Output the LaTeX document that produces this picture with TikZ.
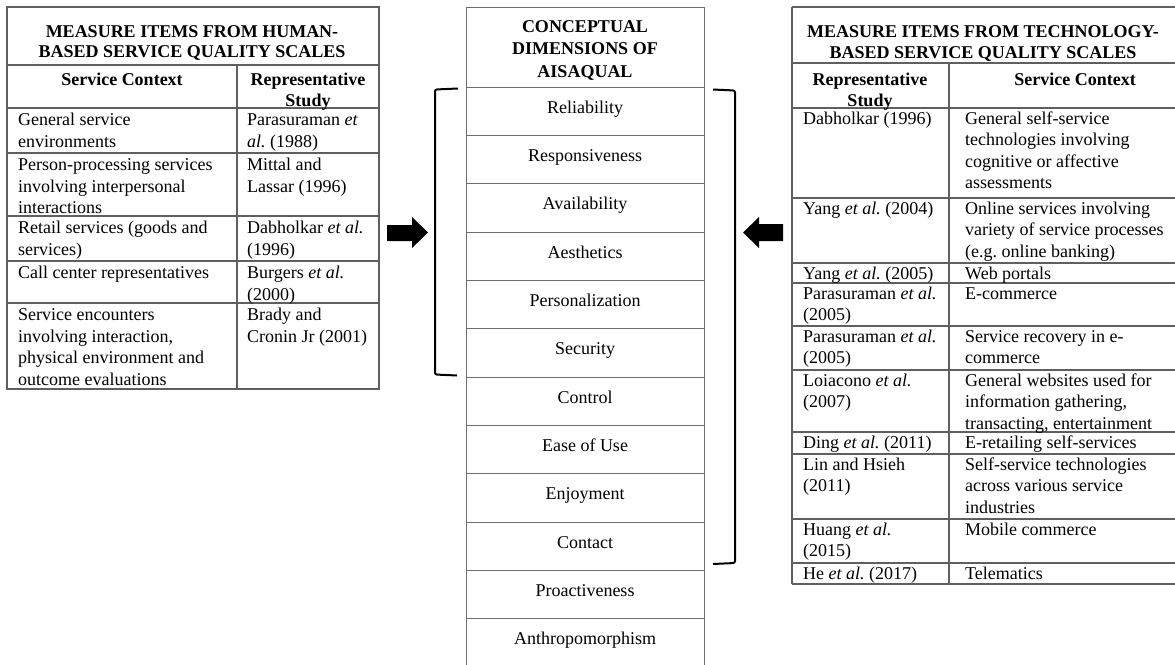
\documentclass[tikz,border=0pt]{standalone}
\usepackage{fontspec}
\setmainfont{Liberation Serif}
\frenchspacing
\newcommand\cellfont{\fontsize{18}{21.5}\selectfont}
\newcommand\headfont{\bfseries\fontsize{18}{21}\selectfont}
\definecolor{tline}{RGB}{95,95,95}
\definecolor{mline}{RGB}{110,110,110}
\tikzset{
  cell/.style={anchor=north west, inner sep=0pt, align=left, font=\cellfont},
  headc/.style={anchor=north, inner sep=0pt, align=center, font=\headfont},
  dimtext/.style={anchor=base, inner sep=0pt, font=\cellfont},
  tabline/.style={draw=tline, line width=1.3pt},
  midline/.style={draw=mline, line width=1pt},
  bracket/.style={draw=black, line width=2pt, rounded corners=2pt},
  blockarrow/.style={fill=black, draw=none},
}
\begin{document}
\begin{tikzpicture}[x=1pt,y=-1pt]
\useasboundingbox[fill=white] (0,0) rectangle (1175,664);

% ---------------- LEFT TABLE ----------------
\draw[tabline] (7,7) rectangle (379,389);
\foreach \yy in {65,108,153,216,261,303} \draw[tabline] (7,\yy) -- (379,\yy);
\draw[tabline] (237,65) -- (237,389);

\node[headc, font=\bfseries\fontsize{18}{20.5}\selectfont] (ltitle) at (192,22.6) {\strut MEASURE ITEMS FROM HUMAN-\\BASED SERVICE QUALITY  SCALES};
\node[headc] (lh1) at (122,70.3) {\strut Service Context};
\node[headc] (lh2) at (308,70.3) {\strut Representative\\Study};

\node[cell] (l1a) at (18,110.5) {\strut General  service\\environments};
\node[cell] (l1b) at (247,110.5) {\strut Parasuraman \textit{et}\\\textit{al.} (1988)};
\node[cell] (l2a) at (18,155.5) {\strut Person-processing services\\involving  interpersonal\\interactions};
\node[cell] (l2b) at (247,155.5) {\strut Mittal  and\\Lassar (1996)};
\node[cell] (l3a) at (18,218.5) {\strut Retail  services (goods and\\services)};
\node[cell] (l3b) at (247,218.5) {\strut Dabholkar \textit{et al.}\\(1996)};
\node[cell] (l4a) at (18,263.5) {\strut Call  center representatives};
\node[cell] (l4b) at (247,263.5) {\strut Burgers \textit{et al.}\\(2000)};
\node[cell] (l5a) at (18,305.5) {\strut Service encounters\\involving  interaction,\\physical environment  and\\outcome evaluations};
\node[cell] (l5b) at (247,305.5) {\strut Brady and\\Cronin Jr (2001)};

% ---------------- MIDDLE COLUMN ----------------
\draw[midline] (466,7) -- (704,7);
\draw[midline] (466,7) -- (466,670);
\draw[midline] (704,7) -- (704,670);
\foreach \yy in {87,135,183,232,280,328,377,425,473,522,570,618,666} \draw[midline] (466,\yy) -- (704,\yy);

\node[headc, font=\bfseries\fontsize{18}{22.5}\selectfont] (mtitle) at (585,16.3) {\strut CONCEPTUAL\\DIMENSIONS OF\\AISAQUAL};
\node[dimtext] (d1) at (585,113) {Reliability};
\node[dimtext] (d2) at (585,161) {Responsiveness};
\node[dimtext] (d3) at (585,209) {Availability};
\node[dimtext] (d4) at (585,258) {Aesthetics};
\node[dimtext] (d5) at (585,306) {Personalization};
\node[dimtext] (d6) at (585,354) {Security};
\node[dimtext] (d7) at (585,403) {Control};
\node[dimtext] (d8) at (585,451) {Ease of Use};
\node[dimtext] (d9) at (585,499) {Enjoyment};
\node[dimtext] (d10) at (585,548) {Contact};
\node[dimtext] (d11) at (585,596) {Proactiveness};
\node[dimtext] (d12) at (585,644) {Anthropomorphism};

% brackets
\draw[bracket] (458,88.5) -- (435,89.5) -- (435,374.5) -- (457,375.5);
\draw[bracket] (713,89.5) -- (735,90.5) -- (735,563) -- (713,564);

% block arrows
\fill[blockarrow] (387,225) -- (412,225) -- (412,217) -- (428,232.5) -- (412,248) -- (412,241) -- (387,241) -- cycle;
\fill[blockarrow] (783,224) -- (759,224) -- (759,217) -- (743,232.5) -- (759,248) -- (759,241) -- (783,241) -- cycle;

% ---------------- RIGHT TABLE ----------------
\draw[tabline] (792,7) -- (1180,7);
\draw[tabline] (792,7) -- (792,584);
\draw[tabline] (792,584) -- (1180,584);
\foreach \yy in {63,108,198,263,283,326,370,432,454,519,563} \draw[tabline] (792,\yy) -- (1180,\yy);
\draw[tabline] (949,63) -- (949,584);

\node[headc, font=\bfseries\fontsize{18}{21}\selectfont] (rtitle) at (983,22.3) {\strut MEASURE ITEMS FROM TECHNOLOGY-\\BASED SERVICE QUALITY  SCALES};
\node[headc] (rh1) at (870,70.3) {\strut Representative\\Study};
\node[headc] (rh2) at (1075,70.3) {\strut Service Context};

\node[cell] (r1a) at (803,109) {\strut Dabholkar  (1996)};
\node[cell] (r1b) at (965,109) {\strut General  self-service\\technologies involving\\cognitive  or affective\\assessments};
\node[cell] (r2a) at (803,199) {\strut Yang \textit{et al.} (2004)};
\node[cell] (r2b) at (965,199) {\strut Online  services involving\\variety  of service processes\\(e.g. online  banking)};
\node[cell] (r3a) at (803,264) {\strut Yang \textit{et al.} (2005)};
\node[cell] (r3b) at (965,264) {\strut Web portals};
\node[cell] (r4a) at (803,284) {\strut Parasuraman \textit{et al.}\\(2005)};
\node[cell] (r4b) at (965,284) {\strut E-commerce};
\node[cell] (r5a) at (803,327) {\strut Parasuraman \textit{et al.}\\(2005)};
\node[cell] (r5b) at (965,327) {\strut Service recovery in e-\\commerce};
\node[cell] (r6a) at (803,371) {\strut Loiacono \textit{et al.}\\(2007)};
\node[cell] (r6b) at (965,371) {\strut General  websites used for\\information  gathering,\\transacting,  entertainment};
\node[cell] (r7a) at (803,433) {\strut Ding \textit{et al.} (2011)};
\node[cell] (r7b) at (965,433) {\strut E-retailing  self-services};
\node[cell] (r8a) at (803,455) {\strut Lin  and Hsieh\\(2011)};
\node[cell] (r8b) at (965,455) {\strut Self-service  technologies\\across various  service\\industries};
\node[cell] (r9a) at (803,520) {\strut Huang \textit{et al.}\\(2015)};
\node[cell] (r9b) at (965,520) {\strut Mobile  commerce};
\node[cell] (r10a) at (803,564) {\strut He \textit{et al.} (2017)};
\node[cell] (r10b) at (965,564) {\strut Telematics};
\end{tikzpicture}
\end{document}
